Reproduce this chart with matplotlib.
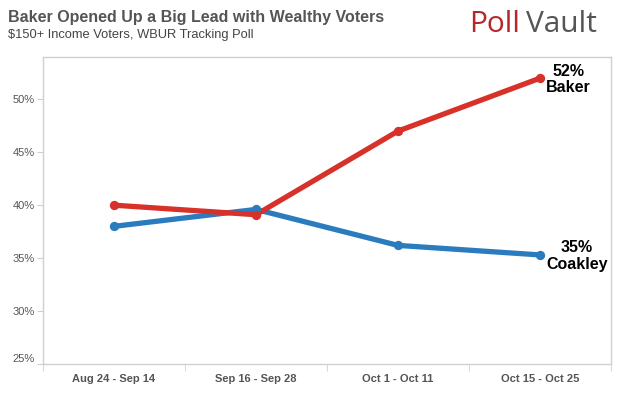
import matplotlib
matplotlib.use("Agg")
import matplotlib.pyplot as plt
import numpy as np

plt.rcParams["font.family"] = ["Liberation Sans", "DejaVu Sans"]

periods = ["Aug 24 - Sep 14", "Sep 16 - Sep 28", "Oct 1 - Oct 11", "Oct 15 - Oct 25"]
baker = [40.0, 39.1, 47.0, 52.0]
coakley = [38.0, 39.6, 36.2, 35.3]
y_ticks = [25, 30, 35, 40, 45, 50]

RED = "#d7312a"
BLUE = "#2b7bbf"
GRID = "#d0d0d0"
TEXT = "#555555"

fig = plt.figure(figsize=(6.17, 3.96), dpi=100)
ax = fig.add_axes([0.0697, 0.081, 0.9205, 0.775])

x = np.arange(len(periods))
for vals, col in [(coakley, BLUE), (baker, RED)]:
    ax.plot(x, vals, color=col, lw=3.8, solid_capstyle="round", zorder=3)
    ax.scatter(x, vals, s=45, color=col, zorder=4, linewidths=0)

ax.set_xlim(-0.5, len(periods) - 0.5)
ax.set_ylim(25, 54)

ax.set_yticks(y_ticks)
ax.set_yticklabels([f"{v}%" for v in y_ticks], fontsize=8, color=TEXT)
ax.tick_params(axis="y", length=4, color=GRID, pad=2)
ax.get_yticklabels()[0].set_va("bottom")

ax.set_xticks(x)
ax.set_xticklabels(periods, fontsize=8, color=TEXT, fontweight="bold")
ax.tick_params(axis="x", length=0, pad=7)
ax.set_xticks(np.arange(-0.5, len(periods)), minor=True)
ax.tick_params(axis="x", which="minor", length=5, color=GRID)

for sp in ax.spines.values():
    sp.set_color(GRID)
    sp.set_linewidth(1.0)

for vals, name in [(baker, "Baker"), (coakley, "Coakley")]:
    ax.annotate(f"{vals[-1]:.0f}%\n{name}", (x[-1], vals[-1]), xytext=(4.5, -1),
                textcoords="offset points", ha="left", va="center",
                multialignment="center", fontsize=11.5, fontweight="bold",
                linespacing=1.15)

fig.text(0.013, 0.955, "Baker Opened Up a Big Lead with Wealthy Voters",
         fontsize=11.5, fontweight="bold", color=TEXT, va="center")
fig.text(0.013, 0.912, "$150+ Income Voters, WBUR Tracking Poll",
         fontsize=9.3, color="#444444", va="center")

# logo
t1 = fig.text(0.76, 0.937, "Poll", fontsize=21.5, color="#b5282a", va="center",
              family="Open Sans")
fig.canvas.draw()
bb = t1.get_window_extent()
fig.text((bb.x1 + 6) / fig.bbox.width, 0.937, "Vault", fontsize=21.5,
         color="#555555", va="center", family="Open Sans")

fig.savefig("out.png", dpi=100)
